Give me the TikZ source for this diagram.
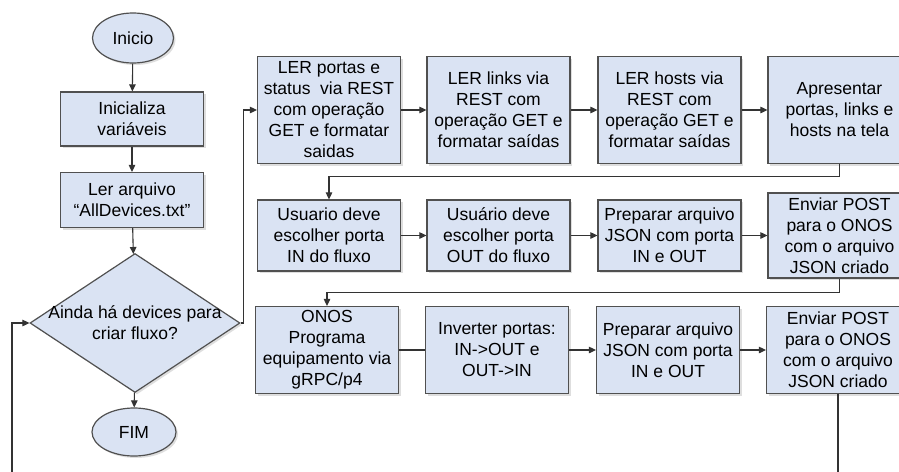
\documentclass[tikz,border=0pt]{standalone}
\usepackage{fontspec}
\setmainfont{Liberation Sans}
\usetikzlibrary{shapes.geometric, arrows.meta, shadows}
\definecolor{boxfill}{RGB}{218,227,243}
\definecolor{boxline}{RGB}{80,80,80}
\begin{document}
\begin{tikzpicture}[
    x=1pt, y=-1pt,
    every node/.style={font=\fontsize{17.5}{21}\selectfont, align=center, inner sep=0pt},
    box/.style={rectangle, draw=boxline, fill=boxfill, line width=1.2pt, minimum width=143pt,
        drop shadow={shadow xshift=2pt, shadow yshift=-2pt, fill=black!25, opacity=0.5}},
    term/.style={ellipse, draw=boxline, fill=boxfill, line width=1.2pt,
        drop shadow={shadow xshift=2pt, shadow yshift=-2pt, fill=black!25, opacity=0.5}},
    decision/.style={diamond, draw=boxline, fill=boxfill, line width=1.2pt, minimum width=210pt, minimum height=139pt,
        drop shadow={shadow xshift=2pt, shadow yshift=-2pt, fill=black!25, opacity=0.5}},
    arrow/.style={draw=black!80, line width=1.1pt, -{Triangle[length=7pt,width=6.5pt]}},
    line/.style={draw=black!80, line width=1.1pt},
    ]
    \clip (0,0) rectangle (899,471);
    \fill[white] (0,0) rectangle (899,471);

    %Nodes left column
    \node[term, minimum width=81pt, minimum height=50pt] at (133,38) (inicio) {Inicio};
    \node[box, minimum height=54pt] at (132,119) (init) {Inicializa\\variáveis};
    \node[box, minimum height=55pt] at (132,200) (ler) {Ler arquivo\\“AllDevices.txt”};
    \node[decision] at (135,323) (cond) {};
    \node at (cond) (condtxt) {Ainda há devices para\\criar fluxo?};
    \node[term, minimum width=84pt, minimum height=48pt] at (134,432) (fim) {FIM};

    %Nodes row 1
    \node[box, minimum height=107pt] at (329,110) (lerportas) {LER portas e\\status\ \ via REST\\com operação\\GET e formatar\\saidas};
    \node[box, minimum height=107pt] at (498.5,110) (lerlinks) {LER links via\\REST com\\operação GET e\\formatar saídas};
    \node[box, minimum height=107pt] at (669.5,110) (lerhosts) {LER hosts via\\REST com\\operação GET e\\formatar saídas};
    \node[box, minimum height=107pt] at (839.5,110) (apresentar) {Apresentar\\portas, links e\\hosts na tela};

    %Nodes row 2
    \node[box, minimum height=71pt] at (329,235.5) (portain) {Usuario deve\\escolher porta\\IN do fluxo};
    \node[box, minimum height=71pt] at (498.5,235.5) (portaout) {Usuário deve\\escolher porta\\OUT do fluxo};
    \node[box, minimum height=71pt] at (669.5,235.5) (json) {Preparar arquivo\\JSON com porta\\IN e OUT};
    \node[box, minimum height=85pt] at (839.5,235.5) (post) {Enviar POST\\para o ONOS\\com o arquivo\\JSON criado};

    %Nodes row 3
    \node[box, minimum height=87pt] at (327,350) (onos) {ONOS\\Programa\\equipamento via\\gRPC/p4};
    \node[box, minimum height=87pt] at (497,350) (inverter) {Inverter portas:\\IN->OUT e\\OUT->IN};
    \node[box, minimum height=87pt] at (668,350) (jsoninv) {Preparar arquivo\\JSON com porta\\IN e OUT};
    \node[box, minimum height=87pt] at (838,350) (postinv) {Enviar POST\\para o ONOS\\com o arquivo\\JSON criado};

    \coordinate (volta) at (12,500);

    %Lines
    \draw[arrow] (inicio) -- (init);
    \draw[arrow] (init) -- (ler);
    \draw[arrow] (ler) -- (cond);
    \draw[arrow] (cond) -- (fim);
    \draw[arrow] (cond.east) -- ++(3,0) |- (lerportas.west);
    \draw[arrow] (lerportas) -- (lerlinks);
    \draw[arrow] (lerlinks) -- (lerhosts);
    \draw[arrow] (lerhosts) -- (apresentar);
    \draw[arrow] (apresentar.south) -- ++(0,12) -| (portain.north);
    \draw[arrow] (portain) -- (portaout);
    \draw[arrow] (portaout) -- (json);
    \draw[arrow] (json) -- (post);
    \draw[arrow] (post.south) -- ++(0,14) -| (onos.north);
    \draw[line] (onos) -- (inverter);
    \draw[arrow] (inverter) -- (jsoninv);
    \draw[arrow] (jsoninv) -- (postinv);
    \draw[arrow] (postinv.south) |- (volta) |- (cond.west);
\end{tikzpicture}
\end{document}
